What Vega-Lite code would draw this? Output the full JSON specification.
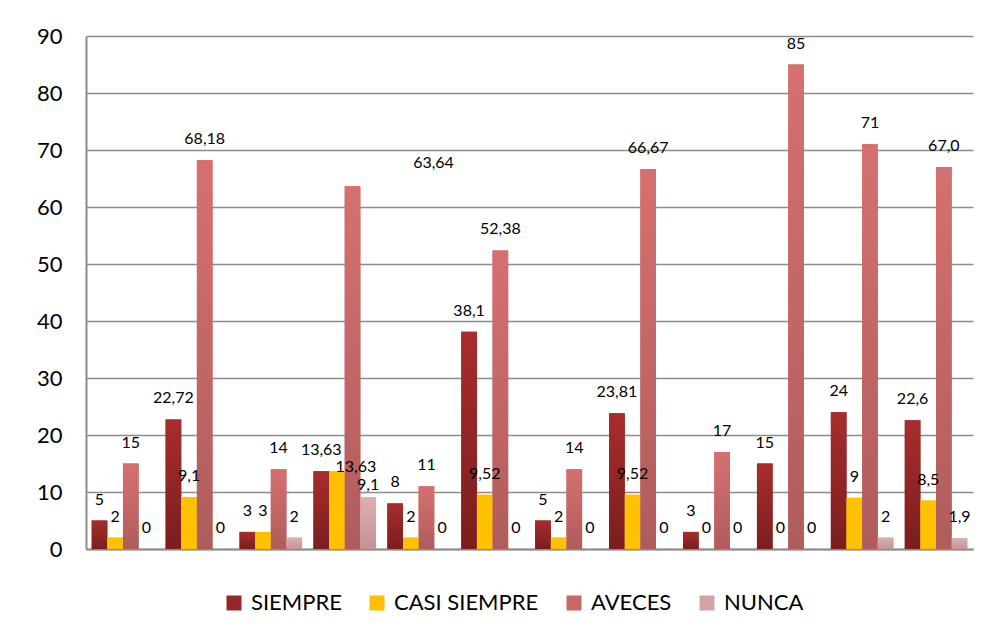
{
  "$schema": "https://vega.github.io/schema/vega-lite/v6.json",
  "width": 887,
  "height": 513,
  "autosize": "none",
  "padding": {"left": 86, "top": 36, "right": 22, "bottom": 90},
  "background": "white",
  "data": {
    "values": [
      {"g": 1, "s": "SIEMPRE", "v": 5, "t": "5"},
      {"g": 1, "s": "CASI SIEMPRE", "v": 2, "t": "2"},
      {"g": 1, "s": "AVECES", "v": 15, "t": "15"},
      {"g": 1, "s": "NUNCA", "v": 0, "t": "0"},
      {"g": 2, "s": "SIEMPRE", "v": 22.72, "t": "22,72"},
      {"g": 2, "s": "CASI SIEMPRE", "v": 9.1, "t": "9,1"},
      {"g": 2, "s": "AVECES", "v": 68.18, "t": "68,18"},
      {"g": 2, "s": "NUNCA", "v": 0, "t": "0"},
      {"g": 3, "s": "SIEMPRE", "v": 3, "t": "3"},
      {"g": 3, "s": "CASI SIEMPRE", "v": 3, "t": "3"},
      {"g": 3, "s": "AVECES", "v": 14, "t": "14"},
      {"g": 3, "s": "NUNCA", "v": 2, "t": "2"},
      {"g": 4, "s": "SIEMPRE", "v": 13.63, "t": "13,63"},
      {"g": 4, "s": "CASI SIEMPRE", "v": 13.63, "t": "13,63"},
      {"g": 4, "s": "AVECES", "v": 63.64, "t": "63,64"},
      {"g": 4, "s": "NUNCA", "v": 9.1, "t": "9,1"},
      {"g": 5, "s": "SIEMPRE", "v": 8, "t": "8"},
      {"g": 5, "s": "CASI SIEMPRE", "v": 2, "t": "2"},
      {"g": 5, "s": "AVECES", "v": 11, "t": "11"},
      {"g": 5, "s": "NUNCA", "v": 0, "t": "0"},
      {"g": 6, "s": "SIEMPRE", "v": 38.1, "t": "38,1"},
      {"g": 6, "s": "CASI SIEMPRE", "v": 9.52, "t": "9,52"},
      {"g": 6, "s": "AVECES", "v": 52.38, "t": "52,38"},
      {"g": 6, "s": "NUNCA", "v": 0, "t": "0"},
      {"g": 7, "s": "SIEMPRE", "v": 5, "t": "5"},
      {"g": 7, "s": "CASI SIEMPRE", "v": 2, "t": "2"},
      {"g": 7, "s": "AVECES", "v": 14, "t": "14"},
      {"g": 7, "s": "NUNCA", "v": 0, "t": "0"},
      {"g": 8, "s": "SIEMPRE", "v": 23.81, "t": "23,81"},
      {"g": 8, "s": "CASI SIEMPRE", "v": 9.52, "t": "9,52"},
      {"g": 8, "s": "AVECES", "v": 66.67, "t": "66,67"},
      {"g": 8, "s": "NUNCA", "v": 0, "t": "0"},
      {"g": 9, "s": "SIEMPRE", "v": 3, "t": "3"},
      {"g": 9, "s": "CASI SIEMPRE", "v": 0, "t": "0"},
      {"g": 9, "s": "AVECES", "v": 17, "t": "17"},
      {"g": 9, "s": "NUNCA", "v": 0, "t": "0"},
      {"g": 10, "s": "SIEMPRE", "v": 15, "t": "15"},
      {"g": 10, "s": "CASI SIEMPRE", "v": 0, "t": "0"},
      {"g": 10, "s": "AVECES", "v": 85, "t": "85"},
      {"g": 10, "s": "NUNCA", "v": 0, "t": "0"},
      {"g": 11, "s": "SIEMPRE", "v": 24, "t": "24"},
      {"g": 11, "s": "CASI SIEMPRE", "v": 9, "t": "9"},
      {"g": 11, "s": "AVECES", "v": 71, "t": "71"},
      {"g": 11, "s": "NUNCA", "v": 2, "t": "2"},
      {"g": 12, "s": "SIEMPRE", "v": 22.6, "t": "22,6"},
      {"g": 12, "s": "CASI SIEMPRE", "v": 8.5, "t": "8,5"},
      {"g": 12, "s": "AVECES", "v": 67.0, "t": "67,0"},
      {"g": 12, "s": "NUNCA", "v": 1.9, "t": "1,9"}
    ]
  },
  "encoding": {
    "x": {
      "field": "g", "type": "ordinal",
      "scale": {"paddingInner": 0.154, "paddingOuter": 0.077},
      "axis": {"labels": false, "ticks": false, "title": null, "domainColor": "#8c8c8c", "domainWidth": 2, "grid": false}
    },
    "xOffset": {
      "field": "s", "type": "nominal",
      "sort": ["SIEMPRE", "CASI SIEMPRE", "AVECES", "NUNCA"],
      "scale": {"paddingInner": 0, "paddingOuter": 0}
    },
    "y": {
      "field": "v", "type": "quantitative",
      "scale": {"domain": [0, 90], "nice": false},
      "axis": {
        "values": [0, 10, 20, 30, 40, 50, 60, 70, 80, 90],
        "title": null, "ticks": false, "tickSize": 0, "labelPadding": 24,
        "labelFont": "Lato", "labelFontSize": 22, "labelColor": "#000000",
        "domainColor": "#8c8c8c", "domainWidth": 2,
        "gridColor": "#8c8c8c", "gridWidth": 1.6, "gridOpacity": 1
      }
    }
  },
  "layer": [
    {
      "mark": {"type": "bar"},
      "encoding": {
        "color": {
          "field": "s", "type": "nominal",
          "sort": ["SIEMPRE", "CASI SIEMPRE", "AVECES", "NUNCA"],
          "scale": {
            "domain": ["SIEMPRE", "CASI SIEMPRE", "AVECES", "NUNCA"],
            "range": ["#922828", "#FFC000", "#C96666", "#D3A3A3"]
          },
          "legend": {
            "title": null, "orient": "none", "direction": "horizontal",
            "legendX": 137, "legendY": 556,
            "symbolType": "square", "symbolSize": 225, "symbolStrokeWidth": 0,
            "labelFont": "Lato", "labelFontSize": 22, "labelColor": "#000000",
            "labelOffset": 6, "columnPadding": 24
          }
        }
      }
    },
    {
      "mark": {"type": "bar"},
      "encoding": {
        "fill": {
          "condition": [
            {"test": "datum.s == 'SIEMPRE'", "value": {"gradient": "linear", "x1": 0, "y1": 0, "x2": 0, "y2": 1, "stops": [{"offset": 0, "color": "#A82D2D"}, {"offset": 1, "color": "#7A1E1E"}]}},
            {"test": "datum.s == 'AVECES'", "value": {"gradient": "linear", "x1": 0, "y1": 0, "x2": 0, "y2": 1, "stops": [{"offset": 0, "color": "#D67070"}, {"offset": 1, "color": "#B05C5C"}]}},
            {"test": "datum.s == 'NUNCA'", "value": {"gradient": "linear", "x1": 0, "y1": 0, "x2": 0, "y2": 1, "stops": [{"offset": 0, "color": "#DDB0B0"}, {"offset": 1, "color": "#C49494"}]}}
          ],
          "value": "#FFC000"
        }
      }
    },
    {
      "transform": [{"filter": "!(datum.g == 4 && datum.s != 'SIEMPRE')"}],
      "mark": {"type": "text", "baseline": "middle", "dy": -21, "font": "Lato", "fontSize": 16, "color": "#000000"},
      "encoding": {"text": {"field": "t"}}
    },
    {
      "transform": [{"filter": "datum.g == 4 && datum.s == 'AVECES'"}],
      "mark": {"type": "text", "baseline": "middle", "dy": -23, "dx": 81, "font": "Lato", "fontSize": 16, "color": "#000000"},
      "encoding": {"text": {"field": "t"}}
    },
    {
      "transform": [{"filter": "datum.g == 4 && datum.s == 'CASI SIEMPRE'"}],
      "mark": {"type": "text", "baseline": "middle", "dy": -4, "dx": 19, "font": "Lato", "fontSize": 16, "color": "#000000"},
      "encoding": {"text": {"field": "t"}}
    },
    {
      "transform": [{"filter": "datum.g == 4 && datum.s == 'NUNCA'"}],
      "mark": {"type": "text", "baseline": "middle", "dy": -12, "font": "Lato", "fontSize": 16, "color": "#000000"},
      "encoding": {"text": {"field": "t"}}
    }
  ],
  "config": {"view": {"stroke": null}}
}
